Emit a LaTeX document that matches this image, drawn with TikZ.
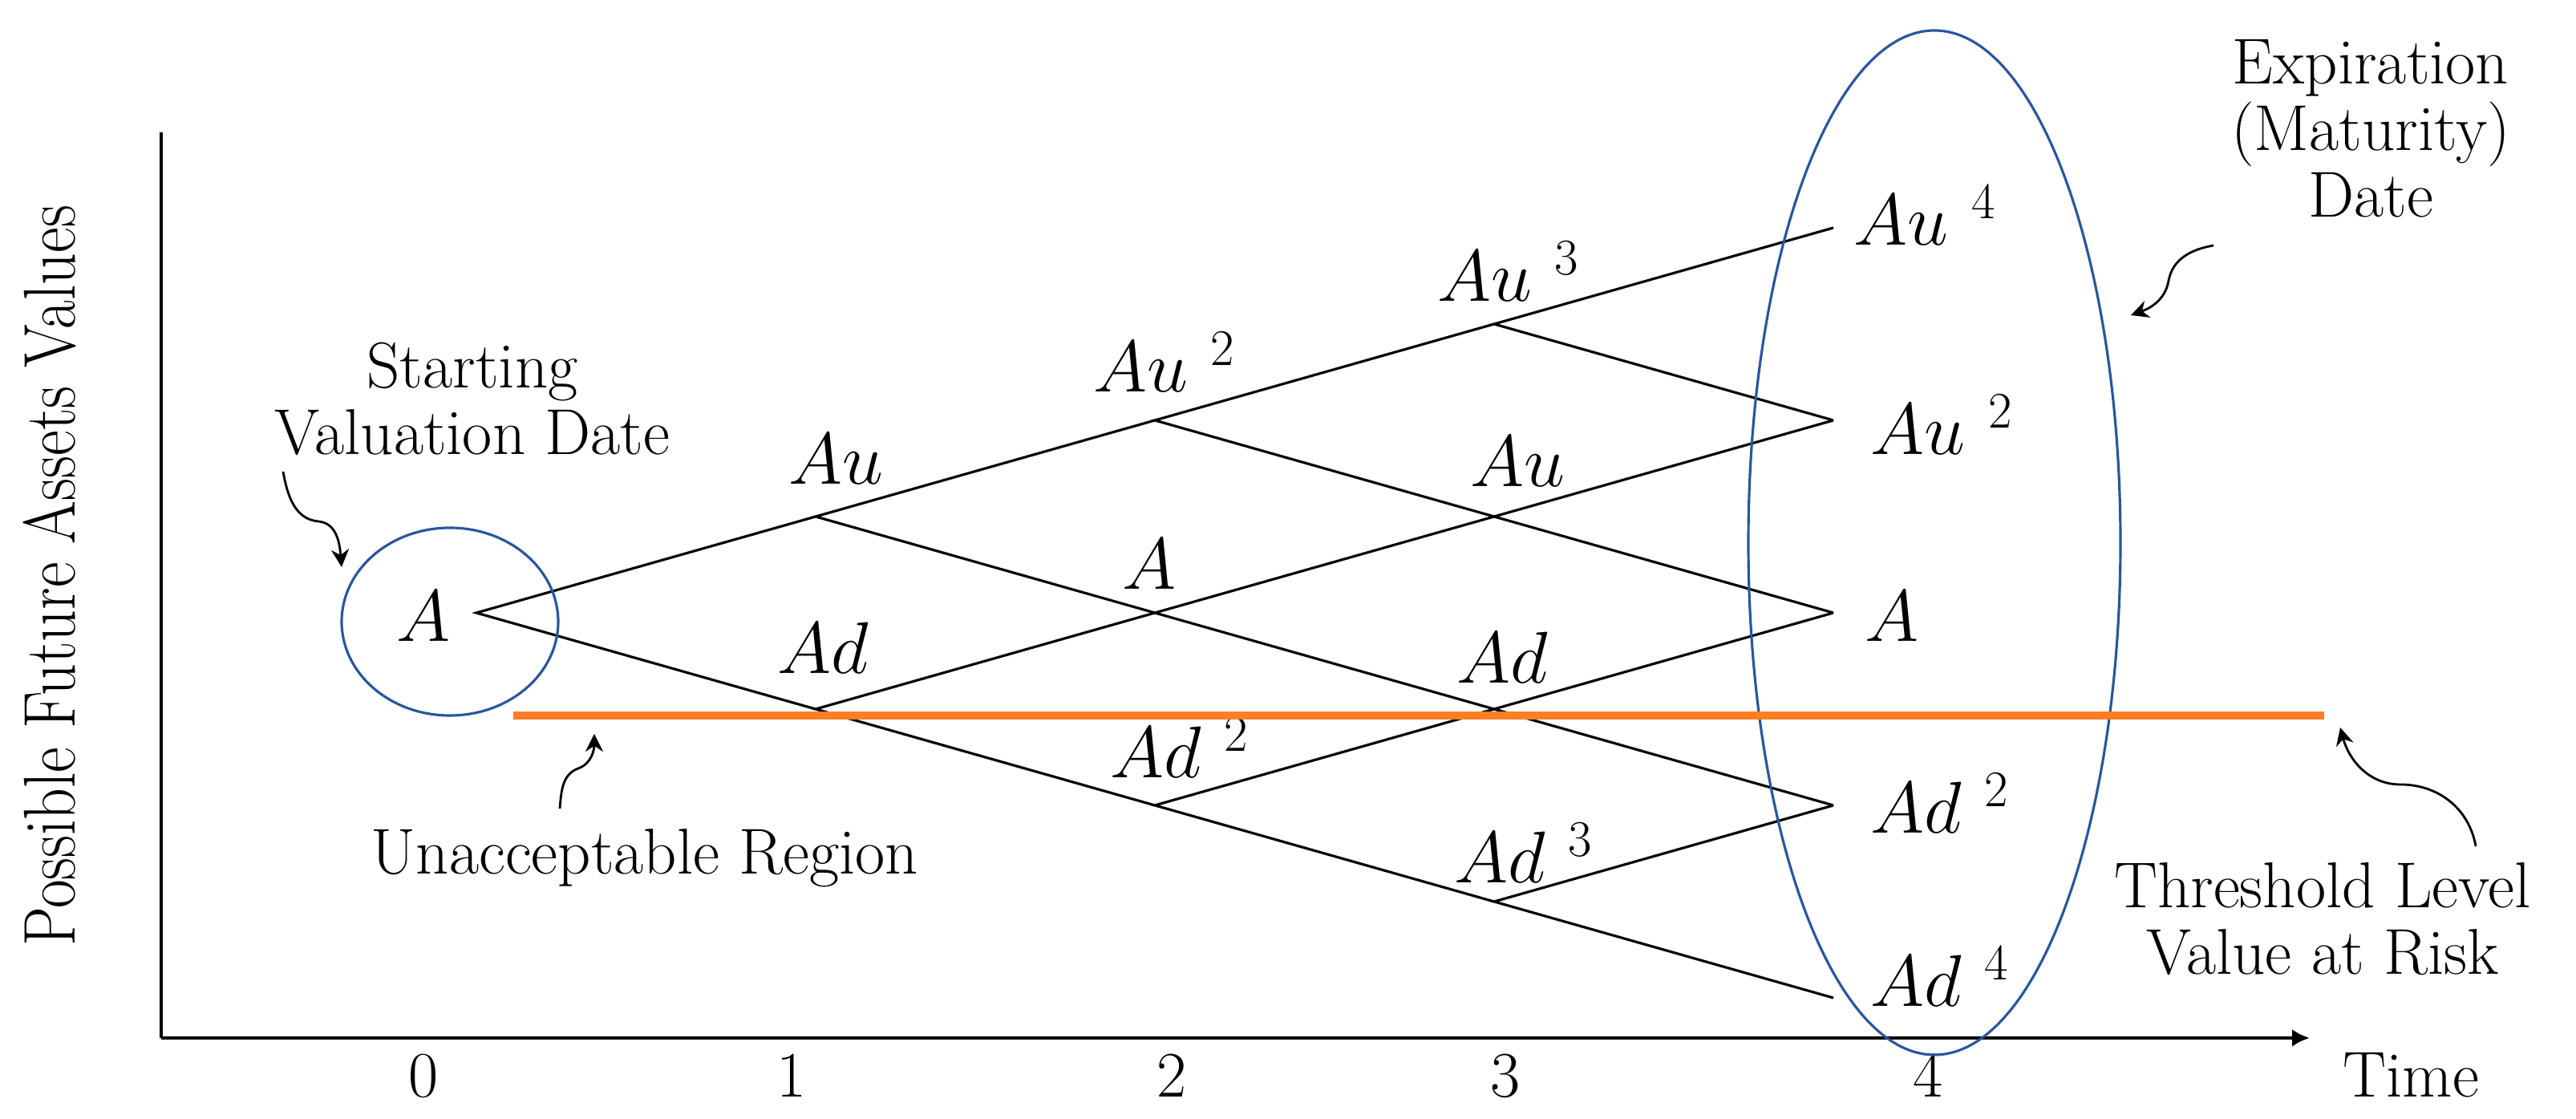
\RequirePackage{fix-cm}
\documentclass[tikz,border=0pt]{standalone}
\usetikzlibrary{arrows.meta,shapes.geometric}
\definecolor{ovalblue}{RGB}{41,86,158}
\definecolor{riskorange}{RGB}{253,126,38}
\newcommand{\txtsize}{\fontsize{23}{23.6}\selectfont}
\newcommand{\lblsize}{\fontsize{26}{28}\selectfont}

\begin{document}
\begin{tikzpicture}[
  branch/.style={line width=0.9pt},
  oval/.style={draw=ovalblue, line width=0.9pt, ellipse, inner sep=0pt},
  txt/.style={font=\txtsize, align=center, inner sep=0pt},
  lbl/.style={font=\lblsize, inner sep=0pt, anchor=base},
  pointer/.style={line width=0.8pt, -{Stealth[length=2.2mm,width=2.2mm]}}
]
\useasboundingbox (0,0) rectangle (32.12,13.95);

% axes
\coordinate (origin) at (2.01,1.01);
\coordinate (ytop) at (2.01,12.30);
\coordinate (xend) at (28.80,1.01);
\draw[line width=1.4pt] (ytop) -- (origin);
\draw[line width=1.4pt, -{Latex[length=2.2mm,width=2.2mm]}] (origin) -- (xend);
\node[font=\fontsize{26}{28}\selectfont, rotate=90, inner sep=0pt] (ylab) at (0.62,6.77)
  {\scalebox{0.85}[1]{Possible Future Assets Values}};
\foreach \t/\x in {0/5.28,1/9.87,2/14.61,3/18.77,4/24.04}
  \node[txt, anchor=base] (tick-\t) at (\x,0.27) {\t};
\node[txt, anchor=base west] (timelbl) at (29.21,0.27) {Time};

% tree vertices
\foreach \i in {0,...,4}
  \foreach \j in {0,...,\i}
    \coordinate (n-\i-\j) at ({5.94+4.23*\i},{6.31+1.2*(2*\j-\i)});

% branches
\foreach \i in {0,...,3}{
  \pgfmathtruncatemacro{\k}{\i+1}
  \foreach \j in {0,...,\i}{
    \pgfmathtruncatemacro{\jj}{\j+1}
    \draw[branch] (n-\k-\jj) -- (n-\i-\j) -- (n-\k-\j);
  }
}

% values on the tree
\node[lbl, xshift=-0.66cm, yshift=-0.36cm] (lab-0-0) at (n-0-0) {$A$};
\foreach \v/\dx/\dy/\val in {1-1/0.25/0.40/{Au}, 1-0/0.09/0.44/{Ad},
    2-2/0.12/0.35/{Au^{\;\,2}}, 2-1/-0.07/0.29/{A}, 2-0/0.31/0.34/{Ad^{\;\,2}},
    3-3/0.18/0.28/{Au^{\;\,3}}, 3-2/0.29/0.37/{Au}, 3-1/0.10/0.32/{Ad},
    3-0/0.37/0.23/{Ad^{\;\,3}}}
  \node[lbl, xshift=\dx cm, yshift=\dy cm] (lab-\v) at (n-\v) {$\val$};
\foreach \v/\dx/\dy/\val in {4-4/0.25/-0.22/{Au^{\;\,4}}, 4-3/0.46/-0.43/{Au^{\;\,2}},
    4-2/0.39/-0.36/{A}, 4-1/0.46/-0.35/{Ad^{\;\,2}}, 4-0/0.46/-0.11/{Ad^{\;\,4}}}
  \node[lbl, anchor=base west, xshift=\dx cm, yshift=\dy cm] (lab-\v) at (n-\v) {$\val$};

% ovals
\node[oval, minimum width=2.70cm, minimum height=2.34cm] (startoval) at (5.61,6.20) {};
\node[oval, minimum width=4.64cm, minimum height=12.77cm] (endoval) at (24.12,7.185) {};

% threshold
\coordinate (risk-l) at (6.40,5.03);
\coordinate (risk-r) at (28.98,5.03);
\draw[riskorange, line width=3.1pt] (risk-l) -- (risk-r);

% notes
\node[txt] (startlbl) at (5.89,8.98) {Starting\\Valuation Date};
\node[txt] (explbl) at (29.56,12.345) {Expiration\\(Maturity)\\Date};
\node[txt] (threshlbl) at (28.96,2.49) {Threshold Level\\Value at Risk};
\node[txt, anchor=base] (unaccept) at (8.04,3.05) {Unacceptable Region};

\coordinate (st-tail) at (3.53,8.07);
\coordinate (st-mid) at (3.97,7.45);
\coordinate (st-tip) at (4.26,6.88);
\draw[pointer] (st-tail) to[out=-80, in=175] (st-mid) to[out=-5, in=95] (st-tip);

\coordinate (un-tail) at (6.98,3.87);
\coordinate (un-mid) at (7.21,4.37);
\coordinate (un-tip) at (7.41,4.80);
\draw[pointer] (un-tail) to[out=85, in=200] (un-mid) to[out=20, in=-90] (un-tip);

\coordinate (th-tail) at (30.87,3.40);
\coordinate (th-mid) at (29.93,4.17);
\coordinate (th-tip) at (29.18,4.88);
\draw[pointer] (th-tail) to[out=100, in=0] (th-mid) to[out=180, in=-75] (th-tip);

\coordinate (ex-tail) at (27.60,10.89);
\coordinate (ex-mid) at (27.04,10.45);
\coordinate (ex-tip) at (26.57,10.02);
\draw[pointer] (ex-tail) to[out=190, in=80] (ex-mid) to[out=-100, in=20] (ex-tip);
\end{tikzpicture}
\end{document}
